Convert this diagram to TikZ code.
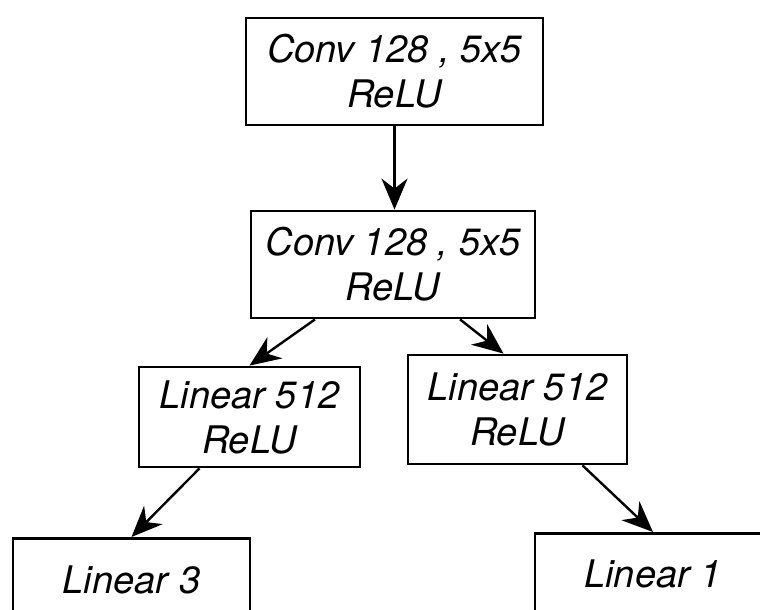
\documentclass[tikz,border=0pt]{standalone}
\usepackage{fontspec}
\setmainfont{TeX Gyre Heros}
\usetikzlibrary{arrows.meta, positioning}
\tikzset{
  layer/.style={rectangle, draw=black, line width=2.8pt, align=center, font=\fontsize{38}{45}\selectfont\itshape, inner sep=0pt},
  arr/.style={-{Stealth[length=31pt, width=26pt, inset=10pt]}, line width=2.4pt, black},
}
\begin{document}
\begin{tikzpicture}[x=1pt, y=-1pt]
\useasboundingbox (0,0) rectangle (760,610);
\clip (0,0) rectangle (760,610);
\node[layer, minimum width=297pt, minimum height=107pt] (conva) at (394.5,71.5) {Conv 128 , 5x5\\ReLU};
\node[layer, minimum width=284pt, minimum height=107pt] (convb) at (393,264.5) {Conv 128 , 5x5\\ReLU};
\node[layer, minimum width=221pt, minimum height=100pt] (lina) at (249.5,417) {Linear 512\\ReLU};
\node[layer, minimum width=219pt, minimum height=109pt] (linb) at (517.5,409.5) {Linear 512\\ReLU};
\node[layer, anchor=north, minimum width=237pt, minimum height=84pt] (outa) at (131.5,537) {Linear 3};
\node[layer, anchor=north, minimum width=236pt, minimum height=82pt] (outb) at (653,532) {Linear 1};
\draw[arr](conva.south)--(conva.south |- convb.north);
\draw[arr]([xshift=-78pt]convb.south)--(lina.north);
\draw[arr]([xshift=67pt]convb.south)--([xshift=-14pt]linb.north);
\draw[arr]([xshift=-50pt]lina.south)--(outa.north);
\draw[arr]([xshift=65pt]linb.south)--(outb.north);
\end{tikzpicture}
\end{document}
